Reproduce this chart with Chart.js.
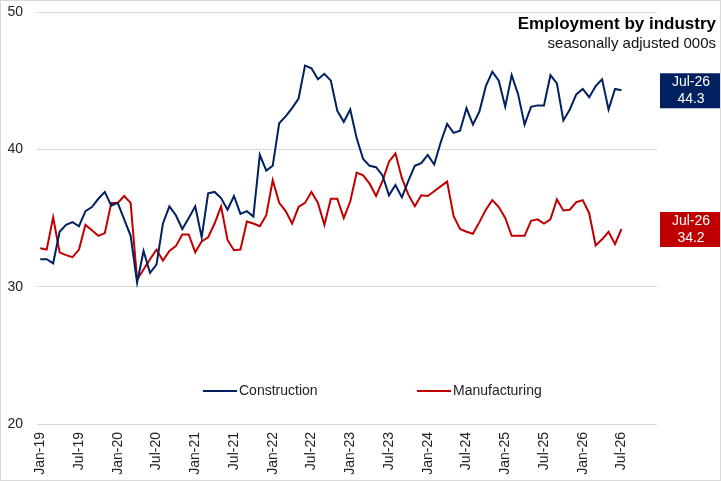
<!DOCTYPE html>
<html>
<head>
<meta charset="utf-8">
<script src="https://cdn.jsdelivr.net/npm/chart.js@4.4.1/dist/chart.umd.min.js"></script>
<style>
  html, body { margin: 0; padding: 0; background: #fff; }
  #wrap { width: 721px; height: 481px; }
</style>
</head>
<body>
<div id="wrap"><canvas id="employmentChart" width="721" height="481"></canvas></div>
<script>
const monthNames = ['Jan', 'Feb', 'Mar', 'Apr', 'May', 'Jun', 'Jul', 'Aug', 'Sep', 'Oct', 'Nov', 'Dec']
const years = ['19', '20', '21', '22', '23', '24', '25', '26']

// x axis runs Jan-19 .. Dec-26, data ends at Jul-26
const months = []
years.forEach(y => monthNames.forEach(m => months.push(m + '-' + y)))

const construction = [
  32.0, 32.0, 31.7, 34.0, 34.5, 34.7, 34.4, 35.5, 35.8, 36.4, 36.9, 35.9,
  36.1, 34.9, 33.7, 30.3, 32.6, 31.0, 31.6, 34.6, 35.85, 35.2, 34.2, 35.0,
  35.85, 33.6, 36.8, 36.9, 36.45, 35.6, 36.6, 35.3, 35.5, 35.1, 39.6, 38.45,
  38.8, 41.9, 42.4, 43.0, 43.7, 46.1, 45.9, 45.1, 45.5, 45.0, 42.8, 42.0,
  42.9, 40.8, 39.3, 38.8, 38.7, 38.1, 36.65, 37.4, 36.5, 37.7, 38.8, 39.0,
  39.6, 38.9, 40.5, 41.85, 41.2, 41.35, 43.0, 41.8, 42.75, 44.6, 45.65, 45.0,
  43.1, 45.4, 44.0, 41.8, 43.1, 43.2, 43.2, 45.4, 44.8, 42.1, 42.9, 44.0,
  44.4, 43.8, 44.6, 45.1, 42.9, 44.4, 44.3
]

const manufacturing = [
  32.8, 32.7, 35.05, 32.5, 32.3, 32.15, 32.7, 34.5, 34.1, 33.7, 33.9, 36.1,
  36.1, 36.6, 36.1, 30.5, 31.25, 32.0, 32.7, 31.9, 32.6, 32.95, 33.8, 33.8,
  32.5, 33.3, 33.6, 34.6, 35.85, 33.4, 32.65, 32.7, 34.75, 34.6, 34.4, 35.2,
  37.75, 36.1, 35.5, 34.6, 35.8, 36.1, 36.9, 36.1, 34.5, 36.4, 36.4, 35.0,
  36.2, 38.3, 38.1, 37.5, 36.6, 37.7, 39.1, 39.7, 37.9, 36.7, 35.85, 36.65,
  36.6, 36.95, 37.3, 37.65, 35.15, 34.2, 34.0, 33.85, 34.7, 35.6, 36.3, 35.8,
  35.0, 33.7, 33.7, 33.7, 34.8, 34.9, 34.6, 34.9, 36.35, 35.55, 35.6, 36.15,
  36.3, 35.35, 33.0, 33.45, 34.0, 33.1, 34.2
]

const yTicks = [20, 30, 40, 50]

const BLUE = '#002060'
const RED = '#C00000'
const FONT = '"Liberation Sans Narrow", "Liberation Sans", Arial, sans-serif'

// title, legend, end labels and frame
const extras = {
  id: 'extras',
  afterDraw(chart) {
    const ctx = chart.ctx
    const area = chart.chartArea
    const yScale = chart.scales.y
    ctx.save()

    ctx.fillStyle = '#000'
    ctx.textAlign = 'right'
    ctx.textBaseline = 'middle'
    ctx.font = 'bold 17px "Liberation Sans", Arial, sans-serif'
    ctx.fillText('Employment by industry', 716, 24)
    ctx.font = '15px "Liberation Sans", Arial, sans-serif'
    ctx.fillStyle = '#111'
    ctx.fillText('seasonally adjusted 000s', 716, 44)

    // legend inside plot
    const legendItems = [
      { text: 'Construction', color: BLUE, x: 203 },
      { text: 'Manufacturing', color: RED, x: 417 }
    ]
    ctx.font = '14px ' + FONT
    ctx.textAlign = 'left'
    legendItems.forEach(item => {
      ctx.strokeStyle = item.color
      ctx.lineWidth = 2
      ctx.beginPath()
      ctx.moveTo(item.x, 391)
      ctx.lineTo(item.x + 34, 391)
      ctx.stroke()
      ctx.fillStyle = '#222'
      ctx.fillText(item.text, item.x + 36, 391)
    })

    // end-of-series value boxes
    chart.data.datasets.forEach(ds => {
      const lastIdx = ds.data.length - 1
      const v = ds.data[lastIdx]
      const cy = yScale.getPixelForValue(v)
      const bx = area.right + 3
      ctx.fillStyle = ds.borderColor
      ctx.fillRect(bx, cy - 17, 62, 35)
      ctx.fillStyle = '#fff'
      ctx.textAlign = 'center'
      ctx.font = '14px ' + FONT
      ctx.fillText(chart.data.labels[lastIdx], bx + 31, cy - 8)
      ctx.fillText(v.toFixed(1), bx + 31, cy + 9)
    })

    ctx.strokeStyle = '#d9d9d9'
    ctx.lineWidth = 1
    ctx.strokeRect(0.5, 0.5, chart.width - 1, chart.height - 1)
    ctx.restore()
  }
}

new Chart(document.getElementById('employmentChart'), {
  type: 'line',
  data: {
    labels: months,
    datasets: [
      {
        label: 'Construction',
        data: construction,
        borderColor: BLUE,
        backgroundColor: BLUE,
        borderWidth: 2,
        pointRadius: 0,
        tension: 0
      },
      {
        label: 'Manufacturing',
        data: manufacturing,
        borderColor: RED,
        backgroundColor: RED,
        borderWidth: 2,
        pointRadius: 0,
        tension: 0
      }
    ]
  },
  options: {
    responsive: false,
    animation: false,
    devicePixelRatio: 1,
    layout: { padding: { top: 0, right: 64, bottom: 0, left: 0 } },
    plugins: {
      legend: { display: false },
      title: { display: false },
      tooltip: { enabled: false }
    },
    scales: {
      x: {
        type: 'category',
        offset: true,
        grid: { display: false, drawTicks: false },
        border: { display: false },
        ticks: {
          autoSkip: false,
          minRotation: 90,
          maxRotation: 90,
          padding: 8,
          color: '#222',
          font: { family: FONT, size: 14 },
          callback: function (val, i) { return i % 6 === 0 ? this.getLabelForValue(val) : '' }
        },
        afterFit(scale) { scale.height = 57 }
      },
      y: {
        min: 20,
        max: 50,
        afterBuildTicks(scale) { scale.ticks = yTicks.map(v => ({ value: v })) },
        grid: { color: '#d9d9d9', drawTicks: false },
        border: { display: false },
        ticks: {
          padding: 14,
          color: '#222',
          font: { family: FONT, size: 14 }
        },
        afterFit(scale) {
          scale.width = 37
          scale.paddingTop = 12
          scale.paddingBottom = 0
        }
      }
    }
  },
  plugins: [extras]
})
</script>
</body>
</html>
